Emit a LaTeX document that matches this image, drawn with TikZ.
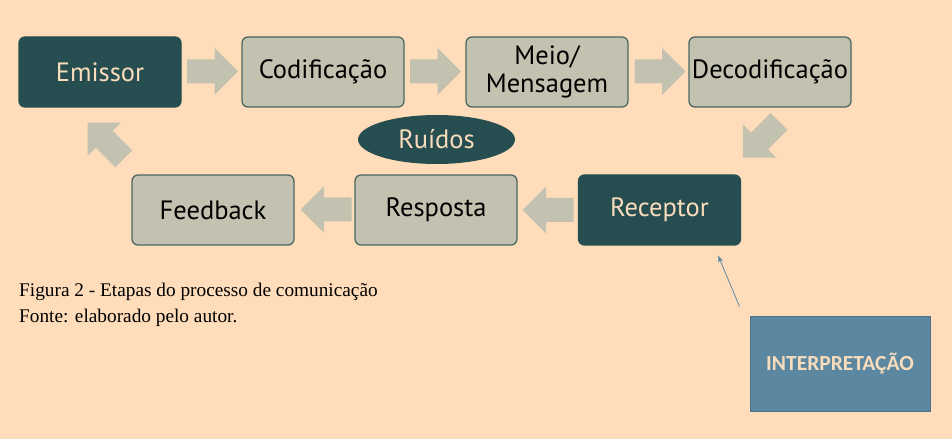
\documentclass[tikz,border=0pt]{standalone}
\usepackage{fontspec}
\setmainfont{Liberation Serif}
\newfontfamily\boxfont{PT Sans}
\newfontfamily\calfont{Carlito}
\usetikzlibrary{calc,shapes.geometric,arrows.meta}
\definecolor{bg}{HTML}{FFDDBB}
\definecolor{darkteal}{HTML}{264D4F}
\definecolor{boxfill}{HTML}{C3C1AF}
\definecolor{boxline}{HTML}{4D6661}
\definecolor{peachtext}{HTML}{F9DCBC}
\definecolor{interpfill}{HTML}{5B88A0}
\definecolor{interpline}{HTML}{4A7390}
\begin{document}
\begin{tikzpicture}[x=1pt,y=1pt,
  stagebox/.style={draw=boxline, line width=1.3pt, fill=boxfill, rounded corners=6pt,
    minimum width=162pt, minimum height=70pt, inner sep=0pt, align=center,
    font=\boxfont\fontsize{26.5}{27}\selectfont, text=black},
  darkbox/.style={stagebox, draw=darkteal, fill=darkteal, text=peachtext},
  blockarr/.pic={\fill[boxfill] (-25.5,-12) -- (2,-12) -- (2,-23.5) -- (25.5,0) -- (2,23.5) -- (2,12) -- (-25.5,12) -- cycle;}
]
\fill[bg] (0,0) rectangle (952,439);
\useasboundingbox (0,0) rectangle (952,439);

% top row
\node[darkbox]  (emi) at (100,367) {Emissor};
\node[stagebox] (cod) at (323,367) {Codificação};
\node[stagebox] (mei) at (547,367) {Meio/\\[1pt]Mensagem};
\node[stagebox] (dec) at (770,367) {Decodificação};
% bottom row
\node[stagebox] (fee) at (213,229) {Feedback};
\node[stagebox] (res) at (436,229) {Resposta};
\node[darkbox]  (rec) at (659.5,229) {Receptor};
% noise
\node[ellipse, fill=darkteal, minimum width=157pt, minimum height=49pt, inner sep=0pt,
  text=peachtext, font=\boxfont\fontsize{26.5}{27}\selectfont] (rui) at (436.5,299.5) {Ruídos};
% interpretation
\node[draw=interpline, line width=1pt, fill=interpfill, minimum width=180pt, minimum height=94pt,
  inner sep=0pt, text=peachtext, font=\calfont\bfseries\fontsize{21.5}{24}\selectfont] (int) at (840,75) {INTERPRETAÇÃO};

% block arrows
\pic at (212.5,367.5) {blockarr};
\pic at (435.5,367.5) {blockarr};
\pic at (660,367.5) {blockarr};
\pic[rotate=225] at (761,299.5) {blockarr};
\pic[rotate=180] at (548,229) {blockarr};
\pic[rotate=180] at (326,229.5) {blockarr};
\pic[rotate=135] at (105.75,298.25) {blockarr};

% thin arrow
\draw[interpfill, line width=0.8pt, -{Stealth[length=7pt,width=5pt]}]
  ($(int.north west)+(-10,10)$) -- ($(rec.south east)+(-23,-10)$);

% caption
\node[anchor=base west, inner sep=0pt, font=\fontsize{19.3}{21}\selectfont] (cap1) at (19,142) {Figura 2 - Etapas do processo de comunicação};
\node[anchor=base west, inner sep=0pt, font=\fontsize{19.3}{21}\selectfont] (cap2) at (19,117) {Fonte: elaborado pelo autor.};
\end{tikzpicture}
\end{document}
